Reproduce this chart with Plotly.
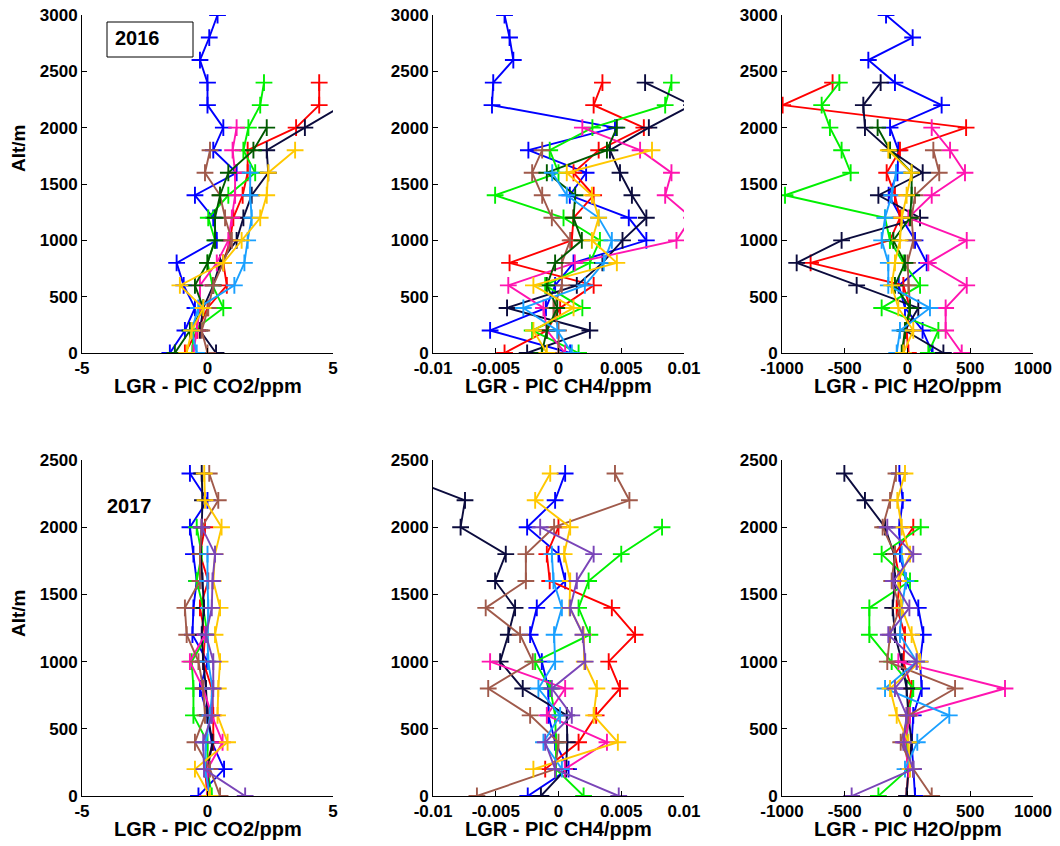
import plotly.graph_objects as go

# ---------------- altitude levels ----------------
ALT_2016 = [0, 200, 400, 600, 800, 1000, 1200, 1400, 1600, 1800, 2000, 2200, 2400, 2600, 2800, 3000]
ALT_2017 = [0, 200, 400, 600, 800, 1000, 1200, 1400, 1600, 1800, 2000, 2200, 2400]
N = None

# ---------------- 2016 CO2 (ppm) ----------------
CO2_16_BLUE = [-1.5, -0.9, -0.5, -0.95, -1.23, 0.37, 0.23, -0.5, 1.16, 0.23, 0.63, 0.0, 0.0, -0.3, 0.07, 0.4]
CO2_16_RED = [-0.9, -0.4, 0.0, 0.77, 0.63, 0.9, 1.03, 1.4, 1.6, 1.6, 3.53, 4.45, 4.45, N, N, N]
CO2_16_GREEN = [-0.6, -0.56, 0.63, 0.2, 0.0, 0.3, 0.03, 0.83, 1.9, 1.43, 1.63, 2.1, 2.25, N, N, N]
CO2_16_NAVY = [0.34, -0.3, -0.17, 0.23, 0.5, 1.16, 1.43, 1.76, 2.42, 2.36, 3.88, 5.4, N, N, N, N]
CO2_16_MAGENTA = [-0.56, -0.43, -0.3, -0.3, 0.37, 0.83, 0.97, 1.1, 1.1, 1.0, 1.16, N, N, N, N, N]
CO2_16_BROWN = [0.0, -0.23, 0.03, 0.23, 0.63, 0.97, 0.7, 0.5, -0.1, 0.1, N, N, N, N, N, N]
CO2_16_DKGREEN = [-1.3, -0.7, -0.17, -0.5, 0.0, 0.3, 0.3, 0.5, 0.83, 1.83, 2.36, N, N, N, N, N]
CO2_16_SKY = [-0.43, -0.63, -0.37, 1.07, 1.47, 1.6, 1.76, 1.7, 1.7, N, N, N, N, N, N, N]
CO2_16_GOLD = [-0.83, -0.63, -0.17, -1.1, 0.63, 1.36, 2.1, 2.36, 2.42, 3.49, N, N, N, N, N, N]

# ---------------- 2016 CH4 (ppm) ----------------
CH4_16_BLUE = [0.00093, -0.00545, -0.001, -0.00027, 0.0012, 0.007, 0.0056, 0.0009, 0.0022, -0.0024, 0.0045, -0.0053, -0.0052, -0.0036, -0.0039, -0.0043]
CH4_16_RED = [-0.0043, -0.00093, 0.00013, 0.0028, -0.0039, 0.00106, 0.0012, 0.0028, 0.0012, 0.0032, 0.0068, 0.0028, 0.0035, N, N, N]
CH4_16_GREEN = [0.0016, -0.0021, 0.0019, -0.00106, 0.0025, 0.0033, 0.0004, -0.00505, 0.0, -0.0007, 0.0027, 0.0085, 0.009, N, N, N]
CH4_16_NAVY = [-0.0025, 0.0025, -0.0041, 0.00146, 0.0035, 0.0051, 0.007, 0.00585, 0.0049, 0.0041, 0.0072, 0.0106, 0.0069, N, N, N]
CH4_16_MAGENTA = [0.00053, -0.00093, -0.0012, -0.004, 0.0013, 0.0094, 0.0106, 0.0085, 0.009, 0.0065, 0.0019, N, N, N, N, N]
CH4_16_BROWN = [0.0, 0.0, -0.0004, 0.00027, 0.00027, 0.00093, -0.00053, -0.0013, -0.0021, -0.0013, N, N, N, N, N, N]
CH4_16_DKGREEN = [-0.00133, -0.00093, -0.0001, -0.00093, -0.00027, 0.00186, 0.0012, 0.00133, -0.00093, 0.00386, 0.00465, N, N, N, N, N]
CH4_16_SKY = [0.00106, -0.0001, -0.0028, 0.0021, 0.0036, 0.00425, 0.0032, 0.00066, -0.0005, N, N, N, N, N, N, N]
CH4_16_GOLD = [-0.00093, -0.002, 0.0012, -0.002, 0.00465, 0.00266, 0.0032, 0.00266, 0.00066, 0.00745, N, N, N, N, N, N]

# ---------------- 2016 H2O (ppm) ----------------
H2O_16_BLUE = [200, 120, -20, -70, 153, 60, -50, -150, -80, -73, -139, 272, -100, -312, 41, -171]
H2O_16_RED = [7, -7, 20, -33, -772, -140, -60, -100, -166, -60, 467, -995, -597, N, N, N]
H2O_16_GREEN = [166, 246, -206, 100, -33, -140, -179, -976, -453, -525, -618, -684, -543, N, N, N]
H2O_16_NAVY = [286, -20, 86, -405, -883, -525, 100, -232, 121, -139, -339, -352, -214, N, N, N]
H2O_16_MAGENTA = [432, 304, 304, 472, 166, 472, 7, 193, 458, 339, 193, N, N, N, N, N]
H2O_16_BROWN = [-33, -20, 20, 7, 0, 46, 33, 60, 253, 206, N, N, N, N, N, N]
H2O_16_DKGREEN = [-46, -20, 20, -100, -20, -113, 20, 33, 33, -139, -238, N, N, N, N, N]
H2O_16_SKY = [-86, -60, 179, -153, -153, -206, -179, -126, -92, N, N, N, N, N, N, N]
H2O_16_GOLD = [-33, 46, -73, -126, -100, -60, -46, -7, 33, -153, N, N, N, N, N, N]

# ---------------- 2017 CO2 (ppm) ----------------
CO2_17_BLUE = [-0.36, 0.66, 0.17, 0.0, -0.3, 0.0, -0.6, -0.56, -0.43, -0.56, -0.7, 0.0, -0.7]
CO2_17_RED = [0.0, -0.1, 0.23, 0.23, 0.17, -0.17, -0.1, -0.3, 0.03, -0.3, -0.1, N, N]
CO2_17_GREEN = [0.17, 0.0, 0.0, -0.56, -0.56, -0.63, 0.0, -0.17, -0.43, -0.23, -0.43, N, N]
CO2_17_NAVY = [0.07, 0.0, 0.2, 0.0, -0.06, -0.17, -0.23, -0.14, -0.2, -0.27, -0.23, -0.2, -0.23]
CO2_17_MAGENTA = [0.0, 0.0, 0.6, 0.17, -0.17, -0.7, -0.1, N, N, N, N, N, N]
CO2_17_BROWN = [0.5, 0.1, -0.5, -0.1, -0.17, -0.36, -0.83, -0.9, -0.3, -0.3, -0.23, 0.43, 0.07]
CO2_17_SKY = [0.1, -0.1, -0.06, 0.1, 0.2, 0.03, 0.0, 0.03, 0.0, 0.0, N, N, N]
CO2_17_GOLD = [0.1, -0.5, 0.8, 0.4, 0.43, 0.5, 0.3, 0.5, 0.23, 0.3, 0.56, -0.1, -0.13]
CO2_17_PURPLE = [1.5, -0.14, -0.17, 0.17, 0.23, 0.23, -0.06, 0.17, 0.2, 0.3, -0.23, N, N]

# ---------------- 2017 CH4 (ppm) ----------------
CH4_17_BLUE = [-0.00245, 0.0008, -0.00027, -0.0008, -0.0008, -0.00133, -0.00226, -0.00173, 0.00053, 0.0, -0.0025, -0.00027, 0.00053]
CH4_17_RED = [N, -0.00106, 0.0016, 0.003, 0.0049, 0.004, 0.0061, 0.00425, -0.0007, -0.00093, 0.0, N, N]
CH4_17_GREEN = [0.002, -0.0002, -0.0002, -0.00027, -0.00066, -0.00186, 0.0025, 0.0016, 0.0024, 0.005, 0.00825, N, N]
CH4_17_NAVY = [-0.0014, 0.0006, 0.0007, 0.00066, -0.00285, -0.00465, -0.004, -0.00346, -0.00505, -0.0042, -0.0078, -0.00745, -0.013]
CH4_17_MAGENTA = [N, 0.0005, 0.00386, -0.00093, 0.00053, -0.00545, N, N, N, N, N, N, N]
CH4_17_BROWN = [-0.0065, -0.00027, 0.0, -0.00226, -0.0056, -0.00205, -0.00306, -0.0058, -0.0026, -0.0026, -0.00035, 0.00565, 0.0045]
CH4_17_SKY = [N, 0.00027, -0.0012, 0.00013, -0.0016, -0.00027, -0.00035, 0.00027, -0.0004, -0.00053, N, N, N]
CH4_17_GOLD = [N, -0.002, 0.00473, 0.0028, 0.00306, 0.00205, 0.002, 0.00088, 0.00093, 0.00045, 0.00093, -0.00186, -0.00066]
CH4_17_PURPLE = [0.0048, -0.00027, -0.00106, 0.00106, -0.00053, 0.00213, 0.00194, 0.00093, 0.00146, 0.0028, -0.00146, N, N]

# ---------------- 2017 H2O (ppm) ----------------
H2O_17_BLUE = [60, 46, 33, 46, 113, 100, 126, 86, -12, -60, -65, -38, -65]
H2O_17_RED = [-7, 7, -20, -7, 33, -33, -20, -86, -60, -100, 46, N, N]
H2O_17_GREEN = [-232, 7, -7, 7, 46, -126, -304, -304, 20, -206, 105, N, N]
H2O_17_NAVY = [-7, 7, 33, 7, -7, -46, -100, -118, -100, -108, -179, -339, -503]
H2O_17_MAGENTA = [N, 7, -20, 20, 777, -73, N, N, N, N, N, N, N]
H2O_17_BROWN = [193, 46, -54, 7, 379, -161, -139, -60, -126, -100, -198, -139, -92]
H2O_17_SKY = [N, -20, 78, 333, -179, 73, -60, -46, -12, -46, N, N, N]
H2O_17_GOLD = [N, 20, 7, -86, -139, 100, 33, -46, -73, 20, -46, -81, -20]
H2O_17_PURPLE = [-445, 46, -33, -7, -100, 73, -153, 15, -113, 46, -161, N, N]

# ---------------- colours ----------------
C_BLUE, C_RED, C_GREEN, C_NAVY = "#0000FF", "#FF0000", "#00F000", "#0B0B3D"
C_MAGENTA, C_BROWN, C_DKGREEN = "#FF14B0", "#A05A4B", "#005A00"
C_SKY, C_GOLD, C_PURPLE = "#1AA0FF", "#FFC800", "#7A45B8"

# ---------------- tick labels ----------------
CO2_TICKS = [-5, 0, 5]
CH4_TICKS = [-0.01, -0.005, 0, 0.005, 0.01]
CH4_TICKTEXT = ["-0.01", "-0.005", "0", "0.005", "0.01"]
H2O_TICKS = [-1000, -500, 0, 500, 1000]
Y16_TICKS = [0, 500, 1000, 1500, 2000, 2500, 3000]
Y17_TICKS = [0, 500, 1000, 1500, 2000, 2500]

# The page body adds an 8 px offset, so the figure is 8 px smaller and
# all layout positions (given in window pixels) are shifted by OFF.
OFF = 8
W, H = 1060 - OFF, 846 - OFF
FONT = "Liberation Sans, Arial, sans-serif"
TICK_SIZE = 17
TITLE_SIZE = 20
LW = 1.9


def px(x):
    return (x - OFF) / W


def py(y):
    return 1 - (y - OFF) / H


panels = [
    (1, ALT_2016, [(CO2_16_BLUE, C_BLUE), (CO2_16_RED, C_RED), (CO2_16_GREEN, C_GREEN), (CO2_16_NAVY, C_NAVY),
                   (CO2_16_MAGENTA, C_MAGENTA), (CO2_16_BROWN, C_BROWN), (CO2_16_DKGREEN, C_DKGREEN),
                   (CO2_16_SKY, C_SKY), (CO2_16_GOLD, C_GOLD)],
     [-5, 5], CO2_TICKS, [str(t) for t in CO2_TICKS], "LGR - PIC CO2/ppm"),
    (2, ALT_2016, [(CH4_16_BLUE, C_BLUE), (CH4_16_RED, C_RED), (CH4_16_GREEN, C_GREEN), (CH4_16_NAVY, C_NAVY),
                   (CH4_16_MAGENTA, C_MAGENTA), (CH4_16_BROWN, C_BROWN), (CH4_16_DKGREEN, C_DKGREEN),
                   (CH4_16_SKY, C_SKY), (CH4_16_GOLD, C_GOLD)],
     [-0.01, 0.01], CH4_TICKS, CH4_TICKTEXT, "LGR - PIC CH4/ppm"),
    (3, ALT_2016, [(H2O_16_BLUE, C_BLUE), (H2O_16_RED, C_RED), (H2O_16_GREEN, C_GREEN), (H2O_16_NAVY, C_NAVY),
                   (H2O_16_MAGENTA, C_MAGENTA), (H2O_16_BROWN, C_BROWN), (H2O_16_DKGREEN, C_DKGREEN),
                   (H2O_16_SKY, C_SKY), (H2O_16_GOLD, C_GOLD)],
     [-1000, 1000], H2O_TICKS, [str(t) for t in H2O_TICKS], "LGR - PIC H2O/ppm"),
    (4, ALT_2017, [(CO2_17_BLUE, C_BLUE), (CO2_17_RED, C_RED), (CO2_17_GREEN, C_GREEN), (CO2_17_NAVY, C_NAVY),
                   (CO2_17_MAGENTA, C_MAGENTA), (CO2_17_BROWN, C_BROWN), (CO2_17_SKY, C_SKY),
                   (CO2_17_GOLD, C_GOLD), (CO2_17_PURPLE, C_PURPLE)],
     [-5, 5], CO2_TICKS, [str(t) for t in CO2_TICKS], "LGR - PIC CO2/ppm"),
    (5, ALT_2017, [(CH4_17_BLUE, C_BLUE), (CH4_17_RED, C_RED), (CH4_17_GREEN, C_GREEN), (CH4_17_NAVY, C_NAVY),
                   (CH4_17_MAGENTA, C_MAGENTA), (CH4_17_BROWN, C_BROWN), (CH4_17_SKY, C_SKY),
                   (CH4_17_GOLD, C_GOLD), (CH4_17_PURPLE, C_PURPLE)],
     [-0.01, 0.01], CH4_TICKS, CH4_TICKTEXT, "LGR - PIC CH4/ppm"),
    (6, ALT_2017, [(H2O_17_BLUE, C_BLUE), (H2O_17_RED, C_RED), (H2O_17_GREEN, C_GREEN), (H2O_17_NAVY, C_NAVY),
                   (H2O_17_MAGENTA, C_MAGENTA), (H2O_17_BROWN, C_BROWN), (H2O_17_SKY, C_SKY),
                   (H2O_17_GOLD, C_GOLD), (H2O_17_PURPLE, C_PURPLE)],
     [-1000, 1000], H2O_TICKS, [str(t) for t in H2O_TICKS], "LGR - PIC H2O/ppm"),
]

X_PX = [(82, 333), (433, 684), (782, 1033)]
Y_PX = [(15, 353), (460, 796)]

fig = go.Figure()
layout = dict(
    width=W, height=H, margin=dict(l=0, r=0, t=0, b=0, pad=0, autoexpand=False),
    paper_bgcolor="white", plot_bgcolor="white", showlegend=False,
    font=dict(family=FONT, color="black"),
)
annotations = []

for idx, alts, series, xr, tv, tt, xtitle in panels:
    row = 0 if idx <= 3 else 1
    col = (idx - 1) % 3
    xs = "" if idx == 1 else str(idx)
    for vals, color in series:
        fig.add_trace(go.Scatter(
            x=vals, y=alts, xaxis="x" + xs, yaxis="y" + xs, mode="lines+markers",
            line=dict(color=color, width=LW),
            marker=dict(symbol="cross-thin", size=12, line=dict(color=color, width=LW), color=color),
            hoverinfo="x+y",
        ))
    xl, xrgt = X_PX[col]
    yt, yb = Y_PX[row]
    layout["xaxis" + xs] = dict(
        domain=[px(xl), px(xrgt)], range=xr, anchor="y" + xs, automargin=False,
        ticklabeloverflow="allow",
        tickvals=tv, ticktext=tt, ticks="inside", ticklen=5, tickcolor="black",
        showline=True, linecolor="black", linewidth=1, showgrid=False, zeroline=False,
        tickfont=dict(family=FONT, size=TICK_SIZE, color="black", weight="bold"),
    )
    layout["yaxis" + xs] = dict(
        domain=[py(yb), py(yt)], range=[0, 3000] if row == 0 else [0, 2500], anchor="x" + xs,
        automargin=False, ticklabeloverflow="allow",
        tickvals=Y16_TICKS if row == 0 else Y17_TICKS, ticks="inside", ticklen=5, tickcolor="black",
        showline=True, linecolor="black", linewidth=1, showgrid=False, zeroline=False,
        tickfont=dict(family=FONT, size=TICK_SIZE, color="black", weight="bold"),
    )
    annotations.append(dict(
        text=xtitle, x=px((xl + xrgt) / 2), y=py(yb + 33), xref="paper", yref="paper",
        xanchor="center", yanchor="middle", showarrow=False,
        font=dict(family=FONT, size=TITLE_SIZE, color="black", weight="bold"),
    ))

for yc in (148, 613):
    annotations.append(dict(
        text="Alt/m", x=px(18), y=py(yc), xref="paper", yref="paper", textangle=-90,
        xanchor="center", yanchor="middle", showarrow=False,
        font=dict(family=FONT, size=TITLE_SIZE - 1, color="black", weight="bold"),
    ))

annotations.append(dict(
    text="2016", x=px(113), y=py(38), xref="paper", yref="paper",
    xanchor="left", yanchor="middle", showarrow=False,
    font=dict(family=FONT, size=20, color="black", weight="bold"),
))
annotations.append(dict(
    text="2017", x=px(105), y=py(506), xref="paper", yref="paper",
    xanchor="left", yanchor="middle", showarrow=False,
    font=dict(family=FONT, size=20, color="black", weight="bold"),
))
layout["annotations"] = annotations
layout["shapes"] = [dict(
    type="rect", xref="paper", yref="paper",
    x0=px(107), x1=px(193), y0=py(57), y1=py(22),
    line=dict(color="black", width=1), fillcolor="rgba(0,0,0,0)",
)]

fig.update_layout(**layout)
fig.write_html("out.html")
